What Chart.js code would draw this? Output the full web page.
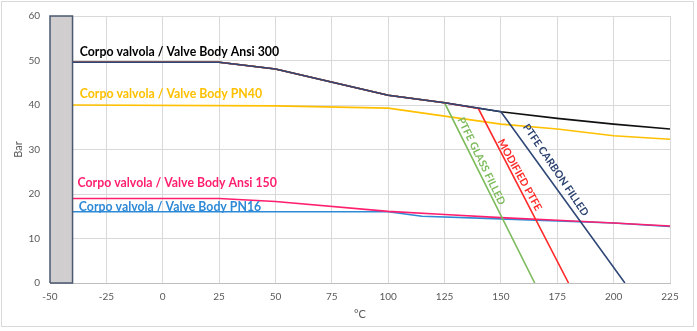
<!DOCTYPE html>
<html lang="en">
<head>
    <meta charset="UTF-8">
    <title>Pressure / Temperature</title>
    <script src="https://cdn.jsdelivr.net/npm/chart.js"></script>
    <style>
        body { margin: 0; background: #fff; }
        #wrap { width: 697px; height: 331px; }
    </style>
</head>
<body>
    <div id="wrap"><canvas id="chart" width="697" height="331"></canvas></div>

    <script>
        // °C / Bar readings
        const ansi300T = [-40, 25, 50, 100, 125, 150, 175, 200, 225];
        const ansi300P = [49.6, 49.6, 48.1, 42.2, 40.5, 38.5, 37.0, 35.7, 34.6];

        const pn40T = [-40, 50, 100, 125, 150, 175, 200, 225];
        const pn40P = [40.0, 39.8, 39.3, 37.5, 35.7, 34.6, 33.1, 32.3];

        const ansi150T = [-40, 25, 50, 100, 125, 150, 175, 200, 225];
        const ansi150P = [19.0, 19.0, 18.3, 16.1, 15.4, 14.7, 14.1, 13.5, 12.8];

        const pn16T = [-40, 100, 115, 150, 200, 225];
        const pn16P = [16.0, 16.0, 15.0, 14.4, 13.5, 12.7];

        const glassT = [-40, 25, 50, 100, 125, 165];
        const glassP = [49.6, 49.6, 48.1, 42.2, 40.5, 0];

        const modifiedT = [-40, 25, 50, 100, 125, 140, 180];
        const modifiedP = [49.6, 49.6, 48.1, 42.2, 40.5, 39.2, 0];

        const carbonT = [-40, 25, 50, 100, 125, 150, 205];
        const carbonP = [49.6, 49.6, 48.1, 42.2, 40.5, 38.5, 0];

        // grey band below the minimum temperature
        const bandTopT = [-50, -40];
        const bandTopP = [60, 60];
        const bandT = [-50, -50, -40, -40, -50];
        const bandP = [0, 60, 60, 0, 0];

        const xTicks = [-50, -25, 0, 25, 50, 75, 100, 125, 150, 175, 200, 225];

        const pts = (t, p) => t.map((x, i) => ({ x: x, y: p[i] }));

        function line(label, t, p, color, order) {
            return {
                label: label,
                data: pts(t, p),
                borderColor: color,
                borderWidth: 1.6,
                pointRadius: 0,
                tension: 0,
                fill: false,
                order: order,
            };
        }

        const labels = [
            { text: "Corpo valvola / Valve Body Ansi 300", x: -36.8, y: 51.8, color: "#000000", angle: 0, size: 12.3 },
            { text: "Corpo valvola / Valve Body PN40", x: -36.8, y: 42.5, color: "#FFC000", angle: 0, size: 12.3 },
            { text: "Corpo valvola / Valve Body Ansi 150", x: -37.8, y: 22.4, color: "#FF1F6E", angle: 0, size: 12.3 },
            { text: "Corpo valvola / Valve Body PN16", x: -37.2, y: 17.0, color: "#2E8AD6", angle: 0, size: 12.3 },
            { text: "PTFE GLASS FILLED", x: 141.3, y: 27.4, color: "#7DBB5C", angle: 64, size: 10.5, center: true },
            { text: "MODIFIED PTFE", x: 158.3, y: 24.3, color: "#FF2A2A", angle: 61, size: 10.5, center: true },
            { text: "PTFE CARBON FILLED", x: 174.3, y: 25.4, color: "#2B4170", angle: 56, size: 10.5, center: true },
        ];

        const textPlugin = {
            id: "lineLabels",
            beforeDraw(chart) {
                const c = chart.ctx;
                c.save();
                c.strokeStyle = "#D9D9D9";
                c.lineWidth = 1;
                c.strokeRect(1.5, 1.5, 692, 325);
                c.restore();
            },
            afterDatasetsDraw(chart) {
                const c = chart.ctx;
                const xs = chart.scales.x, ys = chart.scales.y;
                labels.forEach((l) => {
                    c.save();
                    c.font = "bold " + l.size + "px Lato, 'Open Sans', sans-serif";
                    c.fillStyle = l.color;
                    c.textBaseline = "middle";
                    c.textAlign = l.center ? "center" : "left";
                    c.translate(xs.getPixelForValue(l.x), ys.getPixelForValue(l.y));
                    c.rotate((l.angle * Math.PI) / 180);
                    c.fillText(l.text, 0, 0);
                    c.restore();
                });
            },
        };

        new Chart(document.getElementById("chart"), {
            type: "line",
            data: {
                datasets: [
                    {
                        label: "band outline",
                        data: pts(bandT, bandP),
                        borderColor: "#4A5870",
                        borderWidth: 1.5,
                        pointRadius: 0,
                        tension: 0,
                        fill: false,
                        clip: 2,
                        order: 0,
                    },
                    {
                        label: "band",
                        data: pts(bandTopT, bandTopP),
                        borderWidth: 0,
                        borderColor: "rgba(0,0,0,0)",
                        backgroundColor: "#D0CECE",
                        pointRadius: 0,
                        tension: 0,
                        fill: "origin",
                        order: 0.5,
                    },
                    line("PTFE carbon filled", carbonT, carbonP, "#2F4776", 1),
                    line("Modified PTFE", modifiedT, modifiedP, "#FF2A2A", 2),
                    line("PTFE glass filled", glassT, glassP, "#7DBB5C", 3),
                    line("Ansi 300", ansi300T, ansi300P, "#111111", 4),
                    line("PN40", pn40T, pn40P, "#FFC000", 5),
                    line("Ansi 150", ansi150T, ansi150P, "#FF1F6E", 6),
                    line("PN16", pn16T, pn16P, "#2E8AD6", 7),
                ],
            },
            options: {
                responsive: false,
                animation: false,
                layout: { padding: { top: 2, right: 27, left: 12, bottom: 8 } },
                plugins: { legend: { display: false }, tooltip: { enabled: false } },
                scales: {
                    x: {
                        type: "linear",
                        min: -50,
                        max: 225,
                        afterBuildTicks: (s) => { s.ticks = xTicks.map((v) => ({ value: v })); },
                        afterFit: (s) => { s.height = 40; },
                        grid: { color: "#D9D9D9", drawTicks: false },
                        border: { color: "#BFBFBF" },
                        ticks: { color: "#595959", font: { family: "Lato", size: 10 }, padding: 8 },
                        title: { display: true, text: "°C", color: "#595959", font: { family: "Lato", size: 11 }, padding: 2 },
                    },
                    y: {
                        min: 0,
                        max: 60,
                        afterFit: (s) => { s.width = 38; },
                        grid: { color: "#D9D9D9", drawTicks: false },
                        border: { display: false },
                        ticks: { stepSize: 10, color: "#595959", font: { family: "Lato", size: 10 }, padding: 10 },
                        title: { display: true, text: "Bar", color: "#595959", font: { family: "Lato", size: 11 }, padding: 0 },
                    },
                },
            },
            plugins: [textPlugin],
        });
    </script>
</body>
</html>
